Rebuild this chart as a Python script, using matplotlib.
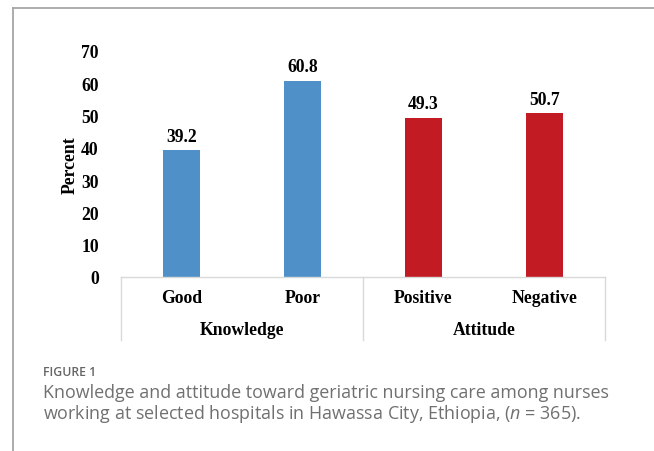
import matplotlib
matplotlib.use("Agg")
import matplotlib.pyplot as plt
import matplotlib.transforms as mtransforms

# data
categories = ["Good", "Poor", "Positive", "Negative"]
groups = ["Knowledge", "Attitude"]
group_of = [0, 0, 1, 1]
percent = [39.2, 60.8, 49.3, 50.7]
group_colors = ["#4F90C8", "#C31B24"]

plt.rcParams["font.family"] = ["Liberation Serif", "DejaVu Serif"]
plt.rcParams["mathtext.fontset"] = "custom"
plt.rcParams["mathtext.it"] = "Open Sans:italic:normal"
plt.rcParams["mathtext.rm"] = "Open Sans:normal"
FS = 12.7

fig = plt.figure(figsize=(6.54, 4.52), dpi=100)
ax = fig.add_axes([121 / 654, 1 - 278 / 452, 484 / 654, 226 / 452])

x = list(range(len(categories)))
bars = ax.bar(x, percent, width=0.31, color=[group_colors[g] for g in group_of])
ax.bar_label(bars, fmt="%.1f", padding=4, fontsize=FS, fontweight="bold")

ax.set_xlim(-0.5, len(categories) - 0.5)
ax.set_ylim(0, 70)
ax.set_yticks(range(0, 71, 10))
ax.tick_params(axis="y", length=0, pad=16, labelsize=FS)
for lab in ax.get_yticklabels():
    lab.set_fontweight("bold")
ax.set_xticks([])
for s in ["top", "right", "left"]:
    ax.spines[s].set_visible(False)
ax.spines["bottom"].set_color("#d9d9d9")
ax.spines["bottom"].set_linewidth(1.0)
fig.text(70 / 654, 1 - 165 / 452, "Percent", rotation=90, ha="center",
         va="center", fontsize=FS, fontweight="bold")

# category labels and group labels below the axis
trans = mtransforms.blended_transform_factory(ax.transData, ax.transAxes)
px = 1 / 226  # one pixel in axes-fraction (vertical)
for i, c in enumerate(categories):
    ax.text(i, -21 * px, c, transform=trans, ha="center", va="center",
            fontsize=FS, fontweight="bold")
for g, name in enumerate(groups):
    idx = [i for i, gg in enumerate(group_of) if gg == g]
    ax.text(sum(idx) / len(idx), -53 * px, name, transform=trans,
            ha="center", va="center", fontsize=FS, fontweight="bold")
for xb in [-0.5, 1.5, 3.5]:
    ax.plot([xb, xb], [0, -63 * px], transform=trans, color="#d9d9d9",
            lw=1.0, clip_on=False)

# outer frame (top and left edges visible)
fig.add_artist(plt.Line2D([12.5 / 654, 1], [1 - 9 / 452] * 2, color="#a6a6a6",
                          lw=1.3, transform=fig.transFigure))
fig.add_artist(plt.Line2D([12.5 / 654] * 2, [0, 1 - 9 / 452], color="#a6a6a6",
                          lw=1.3, transform=fig.transFigure))

# caption
cap = dict(family=["Open Sans", "DejaVu Sans"], color="#707070",
           fontweight="normal")
fig.text(43 / 654, 1 - 373 / 452, "FIGURE 1", fontsize=8.8, va="center",
         family=["Open Sans", "DejaVu Sans"], color="#666666",
         fontweight="semibold")
fig.text(43 / 654, 1 - 393 / 452,
         "Knowledge and attitude toward geriatric nursing care among nurses",
         fontsize=12.9, va="center", **cap)
fig.text(43 / 654, 1 - 414 / 452,
         "working at selected hospitals in Hawassa City, Ethiopia, ($n$ = 365).",
         fontsize=12.9, va="center", **cap)

fig.savefig("out.png", dpi=100)
